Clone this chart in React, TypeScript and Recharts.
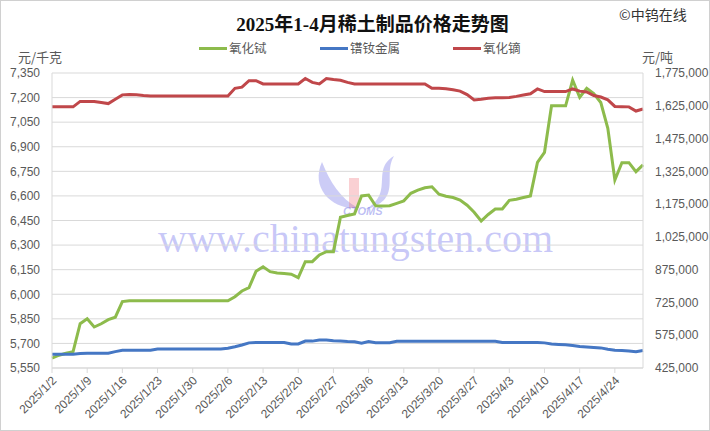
import { LineChart, Line, XAxis, YAxis, CartesianGrid } from 'recharts'

// trading days, Jan 2 - Apr 30 2025
const janDays = [2, 3, 6, 7, 8, 9, 10, 13, 14, 15, 16, 17, 20, 21, 22, 23, 24, 27, 28, 29, 30, 31]
const febDays = [3, 4, 5, 6, 7, 10, 11, 12, 13, 14, 17, 18, 19, 20, 21, 24, 25, 26, 27, 28]
const marDays = [3, 4, 5, 6, 7, 10, 11, 12, 13, 14, 17, 18, 19, 20, 21, 24, 25, 26, 27, 28, 31]
const aprDays = [1, 2, 3, 4, 7, 8, 9, 10, 11, 14, 15, 16, 17, 18, 21, 22, 23, 24, 25, 28, 29, 30]

const dates = [
    ...janDays.map((d) => `2025/1/${d}`),
    ...febDays.map((d) => `2025/2/${d}`),
    ...marDays.map((d) => `2025/3/${d}`),
    ...aprDays.map((d) => `2025/4/${d}`),
]

// 氧化铽 元/千克 (left axis)
const terbium = [
    5610, 5628, 5640, 5650, 5820, 5850, 5800, 5820, 5845, 5860,
    5955, 5960, 5960, 5960, 5960, 5960, 5960, 5960, 5960, 5960,
    5960, 5960, 5960, 5960, 5960, 5960, 5985, 6020, 6040, 6140,
    6168, 6138, 6130, 6126, 6122, 6101, 6199, 6199, 6240, 6260,
    6260, 6470, 6480, 6490, 6600, 6605, 6540, 6538, 6540, 6555,
    6570, 6616, 6635, 6650, 6656, 6610, 6598, 6590, 6575, 6543,
    6500, 6447, 6487, 6520, 6520, 6573, 6580, 6590, 6600, 6805,
    6866, 7150, 7150, 7150, 7307, 7202, 7257, 7225, 7170, 7013,
    6697, 6803, 6803, 6748, 6789,
]

// 镨钕金属 元/吨 (right axis)
const prnd = [
    488000, 488000, 488000, 488000, 491000, 493000, 493000, 493000, 493000, 500000,
    506000, 506000, 506000, 506000, 506000, 512000, 512000, 512000, 512000, 512000,
    512000, 512000, 512000, 512000, 512000, 515000, 522000, 530000, 540000, 542000,
    542000, 542000, 542000, 542000, 535000, 535000, 548000, 548000, 553000, 553000,
    550000, 548000, 546000, 545000, 538000, 546000, 541000, 541000, 541000, 547000,
    547000, 547000, 547000, 547000, 547000, 547000, 547000, 547000, 547000, 547000,
    547000, 547000, 547000, 547000, 542000, 542000, 542000, 542000, 542000, 542000,
    540000, 535000, 533000, 531000, 528000, 523000, 521000, 519000, 517000, 511000,
    506000, 505000, 503000, 499000, 505000,
]

// 氧化镝 元/吨 (right axis)
const dysprosium = [
    1620000, 1620000, 1620000, 1620000, 1645000, 1645000, 1645000, 1640000, 1635000, 1655000,
    1675000, 1677000, 1675000, 1672000, 1670000, 1670000, 1670000, 1670000, 1670000, 1670000,
    1670000, 1670000, 1670000, 1670000, 1670000, 1670000, 1705000, 1710000, 1740000, 1740000,
    1725000, 1725000, 1725000, 1725000, 1725000, 1725000, 1750000, 1732000, 1725000, 1750000,
    1745000, 1742000, 1732000, 1725000, 1725000, 1725000, 1725000, 1725000, 1725000, 1725000,
    1725000, 1725000, 1725000, 1725000, 1705000, 1705000, 1703000, 1698000, 1692000, 1676000,
    1652000, 1655000, 1659000, 1662000, 1662000, 1663000, 1668000, 1674000, 1680000, 1702000,
    1690000, 1690000, 1690000, 1690000, 1702000, 1692000, 1688000, 1672000, 1665000, 1652000,
    1622000, 1621000, 1620000, 1601000, 1610000,
]

const leftTicks = [5550, 5700, 5850, 6000, 6150, 6300, 6450, 6600, 6750, 6900, 7050, 7200, 7350]
const rightTicks = [425000, 575000, 725000, 875000, 1025000, 1175000, 1325000, 1475000, 1625000, 1775000]

const data = dates.map((date, i) => ({
    date,
    terbium: terbium[i],
    prnd: prnd[i],
    dysprosium: dysprosium[i],
}))

const GREEN = '#8dbb4c'
const BLUE = '#4577c4'
const RED = '#c0474a'
const TEXT = '#595959'
const GRID = '#d9d9d9'
const CJK = "'Noto Sans CJK SC', sans-serif"
const NUM = "'Liberation Sans', Arial, sans-serif"

const fmt = (v: number) => v.toLocaleString('en-US')

const DateTick = ({ x, y, payload }: any) => (
    <g transform={`translate(${x + 1},${y + 2})`}>
        <text x={0} y={0} dy={6} textAnchor="end" transform="rotate(-45)" fontSize={12} fill={TEXT} fontFamily={NUM}>
            {payload.value}
        </text>
    </g>
)

const legendItems = [
    { name: '氧化铽', color: GREEN, left: 199 },
    { name: '镨钕金属', color: BLUE, left: 320 },
    { name: '氧化镝', color: RED, left: 453 },
]

export default function App() {
    return (
        <div style={{ position: 'absolute', left: 0, top: 0, width: 710, height: 431, background: '#fff', overflow: 'hidden' }}>
            {/* watermark */}
            <svg width={710} height={431} style={{ position: 'absolute', left: 0, top: 0 }}>
                <path d="M322 162 C 310 188, 332 210, 358 208 C 340 198, 330 182, 322 162 Z" fill="rgba(110,110,230,0.35)" />
                <path d="M349 178 L 359 178 L 359 208 L 349 208 Z" fill="rgba(240,120,130,0.35)" />
                <path d="M394 156 C 370 170, 396 194, 364 210 C 404 200, 382 176, 394 156 Z" fill="rgba(110,110,230,0.35)" />
                <text x={343} y={215} fontSize={11} fontWeight="bold" fontStyle="italic" fill="rgba(110,110,230,0.45)" fontFamily={NUM}>CTOMS</text>
                <text x={158} y={252} fontSize={40} fill="rgba(110,110,235,0.38)" fontFamily="'Liberation Serif', serif">www.chinatungsten.com</text>
            </svg>
            <div style={{ position: 'absolute', left: 0, top: 0 }}>
                <LineChart width={710} height={431} data={data} margin={{ top: 73, right: 0, bottom: 0, left: 0 }}>
                    <CartesianGrid yAxisId="left" vertical={false} stroke={GRID} />
                    <XAxis
                        dataKey="date"
                        interval={4}
                        height={63}
                        tickSize={5}
                        tickMargin={2}
                        axisLine={{ stroke: GRID }}
                        tickLine={{ stroke: GRID }}
                        tick={<DateTick />}
                    />
                    <YAxis
                        yAxisId="left"
                        domain={[5550, 7350]}
                        ticks={leftTicks}
                        width={52}
                        tickSize={0}
                        tickMargin={12}
                        tickLine={false}
                        axisLine={{ stroke: GRID }}
                        tickFormatter={fmt}
                        tick={{ fill: TEXT, fontSize: 12, fontFamily: NUM }}
                    />
                    <YAxis
                        yAxisId="right"
                        orientation="right"
                        domain={[425000, 1775000]}
                        ticks={rightTicks}
                        width={67}
                        tickSize={0}
                        tickMargin={12}
                        tickLine={false}
                        axisLine={{ stroke: GRID }}
                        tickFormatter={fmt}
                        tick={{ fill: TEXT, fontSize: 12, fontFamily: NUM }}
                    />
                    <Line yAxisId="left" type="linear" dataKey="terbium" stroke={GREEN} strokeWidth={3} dot={false} isAnimationActive={false} />
                    <Line yAxisId="right" type="linear" dataKey="prnd" stroke={BLUE} strokeWidth={3} dot={false} isAnimationActive={false} />
                    <Line yAxisId="right" type="linear" dataKey="dysprosium" stroke={RED} strokeWidth={3} dot={false} isAnimationActive={false} />
                </LineChart>
            </div>

            <div style={{ position: 'absolute', left: 0, width: 745, top: 12, textAlign: 'center', fontFamily: "'Liberation Serif', 'Noto Sans CJK SC', serif", fontWeight: 'bold', fontSize: 19, color: '#111', lineHeight: '26px' }}>
                2025年1-4月稀土制品价格走势图
            </div>
            <div style={{ position: 'absolute', left: 619, top: 4, fontFamily: CJK, fontSize: 14, color: '#333', lineHeight: '20px' }}>
                ©中钨在线
            </div>

            {legendItems.map((it) => (
                <div key={it.name} style={{ position: 'absolute', left: it.left, top: 39, display: 'flex', alignItems: 'center', height: 18 }}>
                    <span style={{ display: 'inline-block', width: 28, height: 3, background: it.color, marginRight: 2 }} />
                    <span style={{ fontFamily: CJK, fontSize: 12.5, color: TEXT, lineHeight: '18px' }}>{it.name}</span>
                </div>
            ))}

            <div style={{ position: 'absolute', left: 18, top: 48, fontFamily: CJK, fontSize: 13, color: TEXT, lineHeight: '18px' }}>元/千克</div>
            <div style={{ position: 'absolute', left: 642, top: 48, fontFamily: CJK, fontSize: 13, color: TEXT, lineHeight: '18px' }}>元/吨</div>

            <div style={{ position: 'absolute', left: 0, top: 0, width: 710, height: 431, boxSizing: 'border-box', border: '1px solid #d0d0d0', pointerEvents: 'none' }} />
        </div>
    )
}
